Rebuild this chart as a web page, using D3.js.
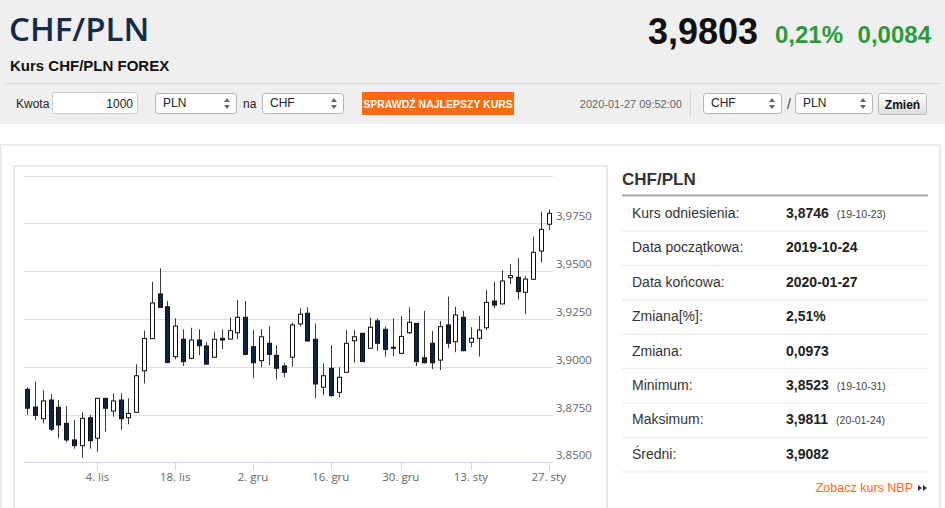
<!DOCTYPE html>
<html>
<head>
<meta charset="utf-8">
<script src="https://cdn.jsdelivr.net/npm/d3@7"></script>
<style>
  body { margin: 0; background: #fff; font-family: "Liberation Sans", Arial, sans-serif; }
  svg { display: block; }
</style>
</head>
<body>
<svg id="page" width="945" height="508"></svg>
<script>
// trading days shown on the chart (ordinal axis, no weekends / 25.12 / 1.01)
var dates = [
  '2019-10-22','2019-10-23','2019-10-24','2019-10-25','2019-10-28','2019-10-29','2019-10-30','2019-10-31',
  '2019-11-01','2019-11-04','2019-11-05','2019-11-06','2019-11-07','2019-11-08','2019-11-11','2019-11-12',
  '2019-11-13','2019-11-14','2019-11-15','2019-11-18','2019-11-19','2019-11-20','2019-11-21','2019-11-22',
  '2019-11-25','2019-11-26','2019-11-27','2019-11-28','2019-11-29','2019-12-02','2019-12-03','2019-12-04',
  '2019-12-05','2019-12-06','2019-12-09','2019-12-10','2019-12-11','2019-12-12','2019-12-13','2019-12-16',
  '2019-12-17','2019-12-18','2019-12-19','2019-12-20','2019-12-23','2019-12-24','2019-12-26','2019-12-27',
  '2019-12-30','2019-12-31','2020-01-02','2020-01-03','2020-01-06','2020-01-07','2020-01-08','2020-01-09',
  '2020-01-10','2020-01-13','2020-01-14','2020-01-15','2020-01-16','2020-01-17','2020-01-20','2020-01-21',
  '2020-01-22','2020-01-23','2020-01-24','2020-01-27'
]
var open = [
  3.8882,3.8789,3.8728,3.8826,3.8788,3.8704,3.8617,3.8587,3.8733,3.8626,3.8835,3.8768,3.8826,3.8733,3.8762,3.8979,
  3.9147,3.9381,3.9314,3.9053,3.9144,3.9044,3.9140,3.9109,3.9050,3.9149,3.9145,3.9178,3.9259,3.9105,3.9032,3.9123,
  3.9060,3.9004,3.9050,3.9224,3.9280,3.9144,3.8893,3.8992,3.8866,3.8971,3.9136,3.9175,3.9097,3.9240,3.9196,3.9102,
  3.9070,3.9178,3.9227,3.9047,3.9123,3.9035,3.9219,3.9131,3.9259,3.9128,3.9149,3.9204,3.9344,3.9329,3.9466,3.9468,
  3.9390,3.9458,3.9606,3.9746
]
var high = [
  3.8893,3.8922,3.8878,3.8856,3.8826,3.8795,3.8721,3.8762,3.8748,3.8837,3.8837,3.8861,3.8861,3.8835,3.9013,3.9190,
  3.9445,3.9515,3.9344,3.9254,3.9196,3.9204,3.9196,3.9130,3.9184,3.9196,3.9259,3.9349,3.9344,3.9192,3.9198,3.9213,
  3.9114,3.9018,3.9231,3.9306,3.9311,3.9227,3.9018,3.9114,3.8997,3.9192,3.9192,3.9178,3.9259,3.9254,3.9210,3.9254,
  3.9266,3.9311,3.9229,3.9292,3.9187,3.9240,3.9367,3.9314,3.9292,3.9207,3.9266,3.9402,3.9445,3.9506,3.9538,3.9568,
  3.9475,3.9681,3.9811,3.9822
]
var low = [
  3.8748,3.8721,3.8704,3.8664,3.8626,3.8603,3.8571,3.8523,3.8571,3.8555,3.8660,3.8739,3.8669,3.8699,3.8760,3.8913,
  3.9145,3.9309,3.9018,3.9039,3.9004,3.9039,3.9060,3.9012,3.9048,3.9093,3.9143,3.9145,3.9060,3.8940,3.8997,3.9009,
  3.8934,3.8945,3.9000,3.9210,3.9131,3.8835,3.8852,3.8843,3.8840,3.8969,3.9021,3.9025,3.9095,3.9084,3.9053,3.9055,
  3.9068,3.9171,3.9004,3.9018,3.8988,3.8983,3.9097,3.9076,3.9082,3.9102,3.9053,3.9192,3.9306,3.9327,3.9432,3.9353,
  3.9275,3.9456,3.9545,3.9716
]
var close = [
  3.8783,3.8746,3.8821,3.8673,3.8695,3.8617,3.8587,3.8730,3.8613,3.8835,3.8783,3.8821,3.8728,3.8756,3.8953,3.9148,
  3.9334,3.9311,3.9023,3.9213,3.9027,3.9140,3.9110,3.9014,3.9144,3.9140,3.9189,3.9259,3.9065,3.9021,3.9157,3.9065,
  3.8992,3.8971,3.9219,3.9275,3.9135,3.8910,3.8953,3.8849,3.8945,3.9123,3.9157,3.9027,3.9207,3.9123,3.9091,3.9097,
  3.9159,3.9233,3.9027,3.9021,3.9021,3.9210,3.9123,3.9271,3.9084,3.9149,3.9192,3.9337,3.9323,3.9449,3.9477,3.9393,
  3.9459,3.9599,3.9719,3.9803
]
var tickDates = ['2019-11-04','2019-11-18','2019-12-02','2019-12-16','2019-12-30','2020-01-13','2020-01-27']
var tickLabels = ['4. lis','18. lis','2. gru','16. gru','30. gru','13. sty','27. sty']
var yTicks = [3.85, 3.875, 3.9, 3.925, 3.95, 3.975, 4.0]

var statLabels = ['Kurs odniesienia:','Data początkowa:','Data końcowa:','Zmiana[%]:','Zmiana:','Minimum:','Maksimum:','Średni:']
var statValues = ['3,8746','2019-10-24','2020-01-27','2,51%','0,0973','3,8523','3,9811','3,9082']
var statNotes  = ['(19-10-23)','','','','','(19-10-31)','(20-01-24)','']

var svg = d3.select('#page')

// ---------- header ----------
svg.append('rect').attr('x', 0).attr('y', 0).attr('width', 945).attr('height', 124).attr('fill', '#efefef')

svg.append('text').attr('x', 9).attr('y', 41).text('CHF/PLN')
  .attr('font-family', '"Open Sans", sans-serif').attr('font-weight', 600)
  .attr('font-size', 33).attr('fill', '#142a4c')
svg.append('text').attr('x', 10).attr('y', 70.5).text('Kurs CHF/PLN FOREX')
  .attr('font-size', 15).attr('font-weight', 'bold').attr('fill', '#111')

svg.append('text').attr('x', 758).attr('y', 44).attr('text-anchor', 'end').text('3,9803')
  .attr('font-size', 36).attr('font-weight', 'bold').attr('fill', '#111')
svg.append('text').attr('x', 843).attr('y', 43).attr('text-anchor', 'end').text('0,21%')
  .attr('font-size', 24).attr('font-weight', 'bold').attr('fill', '#2c9a3c')
svg.append('text').attr('x', 931).attr('y', 43).attr('text-anchor', 'end').text('0,0084')
  .attr('font-size', 24).attr('font-weight', 'bold').attr('fill', '#2c9a3c')

svg.append('line').attr('x1', 5).attr('x2', 940).attr('y1', 83.5).attr('y2', 83.5)
  .attr('stroke', '#d6d6d6')

function selectBox(x, w, label){
  var g = svg.append('g').attr('transform', 'translate(' + x + ',93)')
  g.append('rect').attr('x', 0.5).attr('y', 0.5).attr('width', w).attr('height', 20).attr('rx', 3)
    .attr('fill', '#fff').attr('stroke', '#b5b5b5')
  g.append('text').attr('x', 8).attr('y', 14).text(label).attr('font-size', 12).attr('fill', '#222')
  g.append('path').attr('d', 'M' + (w - 12) + ',9 l3,-4 l3,4 z M' + (w - 12) + ',12 l3,4 l3,-4 z')
    .attr('fill', '#666')
}

svg.append('text').attr('x', 16).attr('y', 108).text('Kwota').attr('font-size', 12).attr('fill', '#222')
svg.append('rect').attr('x', 52.5).attr('y', 92.5).attr('width', 85).attr('height', 21).attr('rx', 2)
  .attr('fill', '#fff').attr('stroke', '#ccc')
svg.append('text').attr('x', 133).attr('y', 108).attr('text-anchor', 'end').text('1000')
  .attr('font-size', 12).attr('fill', '#222')
selectBox(155, 81, 'PLN')
svg.append('text').attr('x', 243).attr('y', 108).text('na').attr('font-size', 12).attr('fill', '#222')
selectBox(262, 81, 'CHF')

svg.append('rect').attr('x', 362).attr('y', 92).attr('width', 152).attr('height', 23).attr('fill', '#ff6a0d')
svg.append('text').attr('x', 438).attr('y', 107.5).attr('text-anchor', 'middle').text('SPRAWDŹ NAJLEPSZY KURS')
  .attr('font-size', 10.5).attr('font-weight', 'bold').attr('fill', '#fff')

svg.append('text').attr('x', 682).attr('y', 108).attr('text-anchor', 'end').text('2020-01-27 09:52:00')
  .attr('font-size', 11).attr('fill', '#666')
svg.append('line').attr('x1', 690.5).attr('x2', 690.5).attr('y1', 90).attr('y2', 117).attr('stroke', '#d6d6d6')
selectBox(703, 78, 'CHF')
svg.append('text').attr('x', 787).attr('y', 109).text('/').attr('font-size', 14).attr('fill', '#444')
selectBox(795, 77, 'PLN')

var grad = svg.append('defs').append('linearGradient').attr('id', 'btn').attr('x1', 0).attr('x2', 0).attr('y1', 0).attr('y2', 1)
grad.append('stop').attr('offset', '0%').attr('stop-color', '#ffffff')
grad.append('stop').attr('offset', '100%').attr('stop-color', '#dcdcdc')
svg.append('rect').attr('x', 878.5).attr('y', 93.5).attr('width', 48).attr('height', 21).attr('rx', 2)
  .attr('fill', 'url(#btn)').attr('stroke', '#bbb')
svg.append('text').attr('x', 902.5).attr('y', 109).attr('text-anchor', 'middle').text('Zmień')
  .attr('font-size', 12).attr('font-weight', 'bold').attr('fill', '#111')

// ---------- card ----------
svg.append('rect').attr('x', 1).attr('y', 145).attr('width', 939).attr('height', 370)
  .attr('fill', '#fff').attr('stroke', '#ebebeb').attr('stroke-width', 2)
svg.append('rect').attr('x', 14).attr('y', 166).attr('width', 593).attr('height', 360)
  .attr('fill', '#fff').attr('stroke', '#e8e8e8').attr('stroke-width', 2)

// ---------- candlestick chart ----------
var x = d3.scalePoint().domain(dates).range([27.3, 548.7])
var y = d3.scaleLinear().domain([3.85, 4.0]).range([462.3, 175.7])
var fmt = d3.format('.4f')

var grid = svg.append('g')
grid.selectAll('line').data(yTicks).enter().append('line')
  .attr('x1', 24).attr('x2', 553)
  .attr('y1', function(d){ return Math.round(y(d)) + 0.5 })
  .attr('y2', function(d){ return Math.round(y(d)) + 0.5 })
  .attr('stroke', '#dedede')
grid.selectAll('text').data(yTicks.slice(0, 6)).enter().append('text')
  .attr('x', 556).attr('y', function(d){ return y(d) - 3 })
  .text(function(d){ return fmt(d).replace('.', ',') })
  .attr('font-family', '"Open Sans", sans-serif').attr('font-size', 11.5).attr('fill', '#666')

var xAxis = svg.append('g')
xAxis.append('line').attr('x1', 24).attr('x2', 553).attr('y1', 462.5).attr('y2', 462.5).attr('stroke', '#ccd6eb')
xAxis.selectAll('line.tick').data(tickDates).enter().append('line').attr('class', 'tick')
  .attr('x1', function(d){ return Math.round(x(d)) + 0.5 }).attr('x2', function(d){ return Math.round(x(d)) + 0.5 })
  .attr('y1', 462).attr('y2', 470).attr('stroke', '#ccd6eb')
xAxis.selectAll('text').data(tickDates).enter().append('text')
  .attr('x', function(d){ return x(d) }).attr('y', 481).attr('text-anchor', 'middle')
  .text(function(d, i){ return tickLabels[i] })
  .attr('font-family', '"Open Sans", sans-serif').attr('font-size', 11.5).attr('fill', '#666')

var candles = dates.map(function(d, i){
  return { date: d, o: open[i], h: high[i], l: low[i], c: close[i] }
})
var cg = svg.append('g').selectAll('g').data(candles).enter().append('g')
cg.append('line')
  .attr('x1', function(d){ return Math.round(x(d.date)) + 0.5 })
  .attr('x2', function(d){ return Math.round(x(d.date)) + 0.5 })
  .attr('y1', function(d){ return y(d.h) }).attr('y2', function(d){ return y(d.l) })
  .attr('stroke', '#3a3a3a')
cg.append('rect')
  .attr('x', function(d){ return Math.round(x(d.date)) - 1.5 })
  .attr('width', 4)
  .attr('y', function(d){ return y(Math.max(d.o, d.c)) })
  .attr('height', function(d){ return Math.max(1, Math.abs(y(d.o) - y(d.c))) })
  .attr('fill', function(d){ return d.c >= d.o ? '#fff' : '#0c2447' })
  .attr('stroke', '#111').attr('stroke-width', 1)

// ---------- stats table ----------
svg.append('text').attr('x', 622).attr('y', 185).text('CHF/PLN')
  .attr('font-size', 17).attr('font-weight', 'bold').attr('fill', '#333')
svg.append('line').attr('x1', 622).attr('x2', 928).attr('y1', 195.5).attr('y2', 195.5)
  .attr('stroke', '#a8a8a8').attr('stroke-width', 2)

var rows = svg.append('g').selectAll('g').data(statLabels).enter().append('g')
  .attr('transform', function(d, i){ return 'translate(0,' + (218 + i * 34.4) + ')' })
rows.append('text').attr('x', 632).attr('y', 0).text(function(d){ return d })
  .attr('font-size', 14).attr('fill', '#333')
var vt = rows.append('text').attr('x', 786).attr('y', 0).attr('fill', '#222')
vt.append('tspan').text(function(d, i){ return statValues[i] })
  .attr('font-size', 14).attr('font-weight', 'bold')
vt.append('tspan').attr('dx', 8).text(function(d, i){ return statNotes[i] })
  .attr('font-size', 10.5).attr('fill', '#444')
rows.append('line').attr('x1', 622).attr('x2', 928).attr('y1', 13).attr('y2', 13)
  .attr('stroke', '#f0f0f0').attr('stroke-width', 1.5)

svg.append('text').attr('x', 913).attr('y', 492).attr('text-anchor', 'end').text('Zobacz kurs NBP')
  .attr('font-size', 12.5).attr('fill', '#ff6a13')
svg.append('path').attr('d', 'M918,485 l4,3 l-4,3 z M923,485 l4,3 l-4,3 z').attr('fill', '#333')
</script>
</body>
</html>
